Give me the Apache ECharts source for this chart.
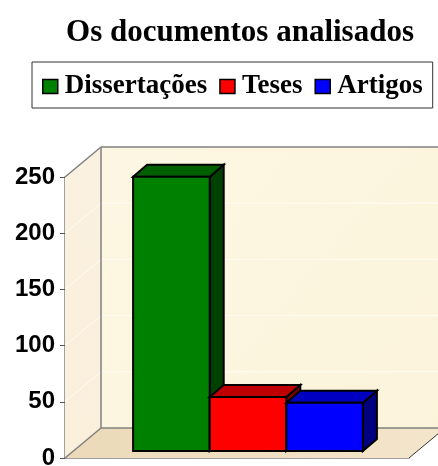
<!DOCTYPE html>
<html><head><meta charset="utf-8">
<style>html,body{margin:0;padding:0;background:#fff}#c{width:438px;height:466px}</style>
<script src="https://cdn.jsdelivr.net/npm/echarts@6/dist/echarts.min.js"></script>
</head><body><div id="c"></div>
<script>
const categories = ['Documentos'];
const seriesNames = ['Dissertações', 'Teses', 'Artigos'];
const seriesValues = [244, 48, 43];
const yTicks = [50, 100, 150, 200];
const yMax = 250;

const faceColors = ['#008000', '#ff0000', '#0000ff'];
const topColors = ['#006000', '#c00000', '#0000c0'];
const sideColors = ['#004000', '#800000', '#000080'];
const GRAY = '#808080';
const wallDx = 36, wallDy = -30;
const barDx = 11, barDy = -7, depthDx = 14, depthDy = -12;
const barSpan = 0.668;

function poly(points, fill, stroke, lw) {
  return { type: 'polygon', shape: { points }, style: { fill, stroke: stroke || null, lineWidth: lw || 0, lineJoin: 'miter' } };
}
function line(a, b, stroke, lw) {
  return { type: 'line', shape: { x1: a[0], y1: a[1], x2: b[0], y2: b[1] }, style: { stroke, lineWidth: lw } };
}

function renderRoom(params, api) {
  const base = api.coord([0, 0]);
  const top = api.coord([0, yMax]);
  const band = api.size([1, 0])[0];
  const L = base[0] - band / 2, R = base[0] + band / 2, B = base[1], T = top[1];
  const c = [];
  c.push(poly([[L + wallDx, T + wallDy], [R + wallDx, T + wallDy], [R + wallDx, B + wallDy], [L + wallDx, B + wallDy]], {
    type: 'linear', x: 0, y: 0, x2: 1, y2: 1,
    colorStops: [{ offset: 0, color: '#fdf6e2' }, { offset: 0.5, color: '#fcf5df' }, { offset: 1, color: '#fbf3da' }]
  }));
  c.push(poly([[L, T], [L + wallDx, T + wallDy], [L + wallDx, B + wallDy], [L, B]], {
    type: 'linear', x: 0, y: 0, x2: 0, y2: 1,
    colorStops: [{ offset: 0, color: '#fbf1e0' }, { offset: 1, color: '#faefdb' }]
  }));
  c.push(poly([[L, B], [R, B], [R + wallDx, B + wallDy], [L + wallDx, B + wallDy]], {
    type: 'linear', x: 0, y: 0, x2: 1, y2: 0,
    colorStops: [{ offset: 0, color: '#ebd9b9' }, { offset: 1, color: '#f4e6cb' }]
  }));
  yTicks.forEach(v => {
    const y = api.coord([0, v])[1];
    c.push(line([L, y], [L + wallDx, y + wallDy], '#fffdf6', 1));
    c.push(line([L + wallDx, y + wallDy], [R + wallDx, y + wallDy], '#fffdf6', 1));
  });
  c.push(line([L + wallDx, T + wallDy], [R + wallDx, T + wallDy], GRAY, 1.5));
  c.push(line([L + wallDx, T + wallDy], [L + wallDx, B + wallDy], GRAY, 1.5));
  c.push(line([L + wallDx, B + wallDy], [R + wallDx, B + wallDy], GRAY, 1.5));
  c.push(line([L, T], [L + wallDx, T + wallDy], GRAY, 1.5));
  c.push(line([L, B], [L + wallDx, B + wallDy], GRAY, 1.5));
  c.push(line([R, B], [R + wallDx, B + wallDy], '#333333', 1));
  return { type: 'group', children: c };
}

function renderBar(idx) {
  return function (params, api) {
    const base = api.coord([0, 0]);
    const top = api.coord([0, api.value(1)]);
    const band = api.size([1, 0])[0];
    const w = band * barSpan / seriesValues.length;
    const x0 = base[0] + barDx - band * barSpan / 2 + idx * w, x1 = x0 + w;
    const yb = base[1] + barDy, yt = top[1] + barDy;
    const k = '#000';
    return { type: 'group', children: [
      poly([[x1, yb], [x1 + depthDx, yb + depthDy], [x1 + depthDx, yt + depthDy], [x1, yt]], sideColors[idx], k, 2),
      poly([[x0, yt], [x1, yt], [x1 + depthDx, yt + depthDy], [x0 + depthDx, yt + depthDy]], topColors[idx], k, 2),
      poly([[x0, yb], [x1, yb], [x1, yt], [x0, yt]], faceColors[idx], k, 2)
    ] };
  };
}

const chart = echarts.init(document.getElementById('c'), null, { renderer: 'canvas' });
chart.setOption({
  animation: false,
  backgroundColor: '#ffffff',
  title: {
    text: 'Os documentos analisados', left: 235, top: 12, textAlign: 'center',
    textStyle: { fontFamily: 'Liberation Serif', fontWeight: 'bold', fontSize: 31, color: '#000' }
  },
  legend: {
    data: seriesNames, left: 32, top: 62, orient: 'horizontal', selectedMode: false,
    padding: [11, 10, 8, 10], itemGap: 12, itemWidth: 15, itemHeight: 14, icon: 'rect',
    borderColor: '#333', borderWidth: 1, backgroundColor: '#fff',
    itemStyle: { borderColor: '#000', borderWidth: 1.5 },
    textStyle: { fontFamily: 'Liberation Serif', fontWeight: 'bold', fontSize: 27, color: '#000', padding: [0, 0, 0, 2] }
  },
  grid: { left: 65, top: 177, width: 344, height: 281, outerBoundsMode: 'none' },
  xAxis: { type: 'category', data: categories, axisLabel: { show: false }, axisTick: { show: false },
    axisLine: { lineStyle: { color: GRAY, width: 1.5 } } },
  yAxis: { type: 'value', min: 0, max: yMax, interval: 50, splitLine: { show: false },
    axisLine: { show: true, lineStyle: { color: GRAY, width: 1.5 } },
    axisTick: { show: true, length: 5, lineStyle: { color: '#555', width: 1 } },
    axisLabel: { fontFamily: 'Liberation Sans', fontWeight: 'bold', fontSize: 24, color: '#000', margin: 10, padding: [2, 0, 0, 0] } },
  series: [
    { type: 'custom', name: 'room', silent: true, clip: false, z: 1, data: [[0, 0]], renderItem: renderRoom,
      encode: { x: 0, y: 1 }, tooltip: { show: false } }
  ].concat(seriesNames.map((name, i) => ({
    type: 'custom', name, clip: false, z: 3 + i,
    data: [[0, seriesValues[i]]], encode: { x: 0, y: 1 },
    itemStyle: { color: faceColors[i], borderColor: '#000', borderWidth: 1.5 },
    renderItem: renderBar(i)
  })))
});
</script></body></html>
